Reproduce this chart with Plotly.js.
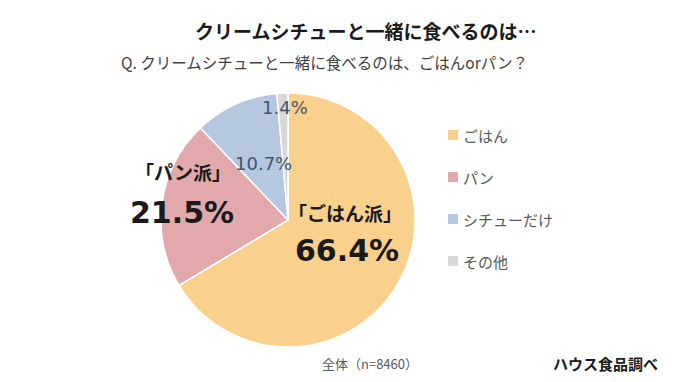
<!DOCTYPE html>
<html>
<head>
<meta charset="utf-8">
<script src="https://cdn.plot.ly/plotly-3.0.1.min.js"></script>
<style>
html,body{margin:0;padding:0;background:#fff;}
#chart{width:680px;height:382px;}
</style>
</head>
<body>
<div id="chart"></div>
<script>
// Data
const categories = ['ごはん', 'パン', 'シチューだけ', 'その他'];
const values = [66.4, 21.5, 10.7, 1.4];
const colors = ['#F9D08C', '#E2A9AC', '#B6C8E0', '#D8D8D8'];
const groupNames = ['「ごはん派」', '「パン派」'];
const titleText = 'クリームシチューと一緒に食べるのは…';
const subtitleText = 'Q. クリームシチューと一緒に食べるのは、ごはんorパン？';
const sampleNote = '全体（n=8460）';
const sourceNote = 'ハウス食品調べ';

const W = 680, H = 382;
const px = x => x / W;
const py = y => 1 - y / H;
const JP = '"Noto Sans CJK JP", "Noto Sans", sans-serif';
const NUM = '"DejaVu Sans", sans-serif';
const pct = v => v.toFixed(1) + '%';

const trace = {
  type: 'pie',
  labels: categories,
  values: values,
  sort: false,
  direction: 'clockwise',
  rotation: 0,
  marker: { colors: colors, line: { color: '#ffffff', width: 1.5 } },
  textinfo: 'none',
  hoverinfo: 'label+percent',
  showlegend: false,
  domain: { x: [px(161), px(415)], y: [py(347), py(93)] }
};

const annotations = [];
const shapes = [];
const addText = (text, x, y, size, color, family, xanchor) => {
  annotations.push({
    text: text, x: px(x), y: py(y), xref: 'paper', yref: 'paper',
    xanchor: xanchor || 'center', yanchor: 'middle', showarrow: false,
    font: { size: size, color: color, family: family }
  });
};

// titles
addText('<b>' + titleText + '</b>', 365, 30, 19, '#1a1a1a', JP);
addText(subtitleText, 119, 62, 15.5, '#404040', JP, 'left');

// slice labels
addText('<b>' + groupNames[0] + '</b>', 345, 212, 19, '#1a1a1a', JP);
addText('<b>' + pct(values[0]) + '</b>', 347, 250, 30, '#1a1a1a', NUM);
addText('<b>' + groupNames[1] + '</b>', 183, 172, 19, '#1a1a1a', JP);
addText('<b>' + pct(values[1]) + '</b>', 182, 212, 30, '#1a1a1a', NUM);
addText(pct(values[2]), 263, 163, 18, '#44546A', NUM);
addText(pct(values[3]), 285, 108, 18, '#44546A', NUM);

// legend
const legX = 448, legY0 = 135, legStep = 42, box = 10;
categories.forEach((c, i) => {
  const y = legY0 + i * legStep;
  shapes.push({
    type: 'rect', xref: 'paper', yref: 'paper',
    x0: px(legX), x1: px(legX + box), y0: py(y + box / 2), y1: py(y - box / 2),
    fillcolor: colors[i], line: { width: 0 }
  });
  addText(c, 461, y, 15, '#595959', JP, 'left');
});

// notes
addText(sampleNote, 370, 363, 13, '#595959', JP);
addText('<b>' + sourceNote + '</b>', 605, 363, 15, '#1a1a1a', JP);

const layout = {
  width: W, height: H,
  margin: { l: 0, r: 0, t: 0, b: 0 },
  paper_bgcolor: '#ffffff',
  plot_bgcolor: '#ffffff',
  showlegend: false,
  annotations: annotations,
  shapes: shapes
};

Plotly.newPlot('chart', [trace], layout, { displayModeBar: false, staticPlot: true });
</script>
</body>
</html>
